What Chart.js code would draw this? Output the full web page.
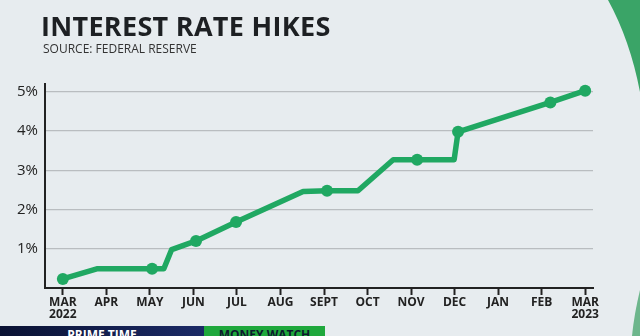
<!DOCTYPE html>
<html>
<head>
<meta charset="utf-8">
<script src="https://cdn.jsdelivr.net/npm/chart.js@4.4.1/dist/chart.umd.min.js"></script>
<style>
  html, body { margin: 0; padding: 0; }
  body { width: 640px; height: 336px; background: #e7ecef; position: relative; overflow: hidden; font-family: "Open Sans", sans-serif; }
  #wrap { position: absolute; left: 0; top: 0; width: 640px; height: 336px; }
  .title { position: absolute; left: 41px; top: 7px; font-size: 27px; font-weight: 700; color: #1d2023; letter-spacing: 0.3px; }
  .source { position: absolute; left: 43px; top: 40px; font-size: 12px; color: #333; }
  .bar { position: absolute; top: 326px; height: 10px; overflow: hidden; font-size: 12px; font-weight: 700; text-align: center; line-height: 18px; }
  .navy { left: 0; width: 204px; background: linear-gradient(90deg, #0a1233, #1b2a66); color: #fff; }
  .green { left: 204px; width: 121px; background: #1fa83c; color: #0d1a2e; }
</style>
</head>
<body>
<div id="wrap"><canvas id="myChart"></canvas></div>
<div class="title">INTEREST RATE HIKES</div>
<div class="source">SOURCE: FEDERAL RESERVE</div>
<div class="bar navy">PRIME TIME</div>
<div class="bar green">MONEY WATCH</div>
<script>
// month labels along the x axis (tick i sits at month index i)
var tickLabels = [['MAR', '2022'], 'APR', 'MAY', 'JUN', 'JUL', 'AUG', 'SEPT',
  'OCT', 'NOV', 'DEC', 'JAN', 'FEB', ['MAR', '2023']];
// position of each line vertex, in months since Mar 2022
var monthPos = [0, 0.78, 2.05, 2.32, 2.5, 3.06, 3.98, 5.52, 6.07, 6.78, 7.59, 8.14, 8.99, 9.08, 11.2, 12];
// rate in percent at each vertex
var rates = [0.23, 0.49, 0.49, 0.49, 0.98, 1.2, 1.68, 2.46, 2.48, 2.48, 3.27, 3.27, 3.27, 3.98, 4.73, 5.03];
// 1 = the vertex is drawn with a dot
var hasDot = [1, 0, 1, 0, 0, 1, 1, 0, 1, 0, 0, 1, 0, 1, 1, 1];
var yTicks = [1, 2, 3, 4, 5];

var green = '#20a862';
var points = monthPos.map(function (m, i) { return { x: m, y: rates[i] }; });

var swoosh = {
  id: 'swoosh',
  beforeDraw: function (chart) {
    var c = chart.ctx;
    c.save();
    c.fillStyle = '#3aa467';
    c.beginPath();
    c.moveTo(608, 0);
    c.quadraticCurveTo(630, 40, 640, 92);
    c.lineTo(640, 0);
    c.closePath();
    c.fill();
    c.fillStyle = '#6db68c';
    c.beginPath();
    c.moveTo(640, 290);
    c.quadraticCurveTo(634, 315, 632, 336);
    c.lineTo(640, 336);
    c.closePath();
    c.fill();
    c.restore();
  }
};

var ctx = document.getElementById('myChart').getContext('2d');
var myChart = new Chart(ctx, {
  type: 'line',
  data: {
    datasets: [{
      data: points,
      borderColor: green,
      backgroundColor: green,
      borderWidth: 5.5,
      borderJoinStyle: 'round',
      borderCapStyle: 'round',
      pointRadius: hasDot.map(function (d) { return d ? 6 : 0; }),
      pointBorderWidth: 0,
      tension: 0
    }]
  },
  options: {
    responsive: true,
    maintainAspectRatio: false,
    animation: false,
    layout: { padding: { left: 10, right: 47, top: 84, bottom: 0 } },
    plugins: { legend: { display: false }, tooltip: { enabled: false } },
    scales: {
      x: {
        type: 'linear',
        min: -0.41,
        max: 12.18,
        afterBuildTicks: function (scale) {
          scale.ticks = tickLabels.map(function (_, i) { return { value: i }; });
        },
        afterFit: function (scale) { scale.height = 48; },
        grid: { drawOnChartArea: false, drawTicks: true, tickLength: 7, tickWidth: 2, color: '#222' },
        border: { display: true, color: '#222', width: 2 },
        ticks: {
          autoSkip: false,
          maxRotation: 0,
          padding: 2,
          color: '#222',
          font: { family: 'Open Sans', size: 12, weight: '700', lineHeight: 0.95 },
          callback: function (v, i) { return tickLabels[i]; }
        }
      },
      y: {
        min: 0,
        max: 5.2,
        afterBuildTicks: function (scale) {
          scale.ticks = yTicks.map(function (v) { return { value: v }; });
        },
        afterFit: function (scale) { scale.width = 35; },
        grid: { drawTicks: false, color: '#b9bdc0', lineWidth: 1.2 },
        border: { display: true, color: '#222', width: 2 },
        ticks: {
          padding: 7,
          color: '#222',
          font: { family: 'Open Sans', size: 15 },
          callback: function (v) { return v + '%'; }
        }
      }
    }
  },
  plugins: [swoosh]
});
</script>
</body>
</html>
